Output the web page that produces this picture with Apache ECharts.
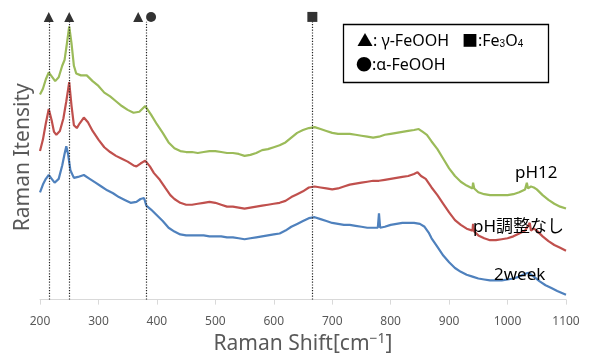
<!DOCTYPE html>
<html>
<head>
<meta charset="utf-8">
<script src="https://cdn.jsdelivr.net/npm/echarts@6/dist/echarts.min.js"></script>
<style>
  html, body { margin: 0; padding: 0; background: #fff; }
  #chart { width: 589px; height: 360px; }
</style>
</head>
<body>
<div id="chart"></div>
<script>
// Raman spectra (arbitrary intensity units, offset per sample)
const shiftPH12 = [200,205,210,215,220,226,232,238,242,246,250,254,258,262,270,280,290,300,310,320,330,340,350,360,370,380,390,400,410,420,430,440,450,460,470,480,490,500,510,520,530,540,550,560,570,580,590,600,610,620,630,640,650,660,670,680,690,700,710,720,730,740,750,760,770,780,790,800,810,820,830,840,848,855,862,870,880,890,900,910,920,930,940,941,943,950,960,970,980,990,1000,1010,1020,1030,1033,1035,1040,1045,1050,1060,1070,1080,1090,1100];
const intPH12 = [214,220,230,237,233,228,232,244,250,267,285,267,244,236,234,234,228,223,216,212,207,202,198,195,196,202,193,183,174,164,158,155,154,154,153,154,155,155,154,153,153,152,150,151,153,156,157,159,161,164,169,174,177,179,180,178,176,174,173,173,173,172,171,170,169,170,172,173,174,175,176,177,178,175,172,165,157,147,137,129,123,119,116,122,116,112,110,109,109,109,109,110,112,115,122,116,118,117,115,109,104,100,97,95];

const shiftNoAdj = [200,205,210,215,220,224,228,234,240,245,250,254,258,263,268,275,282,290,300,310,320,330,340,350,360,365,372,380,388,395,405,415,423,430,440,450,460,470,480,490,500,510,520,530,540,550,560,570,580,590,600,610,620,630,640,650,660,670,680,690,700,710,720,730,740,750,760,770,780,790,800,810,820,830,840,846,852,860,870,880,890,900,910,920,930,940,941,943,950,960,970,980,990,1000,1010,1020,1030,1038,1040,1045,1050,1060,1070,1080,1090,1100];
const intNoAdj = [155,167,184,199,187,175,172,176,189,207,227,202,182,179,184,190,185,176,167,159,154,150,147,144,140,139,142,145,139,132,125,116,109,105,101,99,99,100,101,102,101,99,97,97,96,95,96,97,98,99,100,101,103,107,110,113,117,118,117,116,115,116,118,120,121,122,123,124,124,125,126,127,128,129,131,133,129,126,117,109,100,91,83,78,74,72,79,71,67,64,62,62,63,64,66,69,72,80,72,74,72,66,61,57,54,51];

const shift2w = [200,205,210,215,220,225,232,238,242,245,248,252,258,265,275,285,295,305,315,325,335,345,355,365,372,378,382,390,400,410,420,430,440,450,460,470,480,490,500,510,520,530,540,550,560,570,580,590,600,610,620,630,640,650,660,670,680,690,700,710,720,730,740,750,760,770,778,780,782,790,800,810,820,830,840,850,858,865,870,880,890,900,910,920,930,940,950,960,970,980,990,1000,1010,1020,1030,1036,1045,1055,1065,1075,1085,1100];
const int2w = [112,120,126,130,126,122,126,140,152,160,152,135,127,128,130,126,122,118,114,111,107,104,101,102,105,106,98,94,88,82,75,71,68,67,67,67,67,66,66,66,65,65,64,63,64,65,66,67,68,69,72,76,79,82,85,86,84,82,80,79,78,78,77,76,75,75,75,90,75,76,78,79,80,80,80,79,76,70,64,55,46,39,33,29,26,24,22,21,20,20,20,21,22,24,27,28,24,19,15,12,9,5];

// Reference band positions and their assignment markers
const peakShifts = [215, 250, 381, 666];
const markerShifts = [215, 250, 368, 390, 666];
const markerSymbols = ['triangle', 'triangle', 'triangle', 'circle', 'rect'];
const markerLevel = 295;
const peakLineTop = 290;

const xTicks = [200,300,400,500,600,700,800,900,1000,1100];

const zip = (xs, ys) => xs.map((x, i) => [x, ys[i]]);

const chart = echarts.init(document.getElementById('chart'), null, { renderer: 'canvas' });
const FONT = '"Noto Sans", "Noto Sans CJK JP", sans-serif';
const GREY = '#595959';

const lineSeries = (name, data, color) => ({
  name, type: 'line', data, showSymbol: false, symbol: 'none',
  lineStyle: { color, width: 2.2 }, z: 3, animation: false
});

const label = (text, x, y) => ({
  type: 'text', x, y, z: 11,
  style: { text, fontSize: 17, fill: '#000', fontFamily: FONT, verticalAlign: 'middle' }
});

chart.setOption({
  animation: false,
  textStyle: { fontFamily: FONT },
  grid: { left: 40, right: 23, top: 15, bottom: 49 },
  xAxis: {
    type: 'value', min: 200, max: 1100, interval: 100,
    name: 'Raman Shift[cm{sup|−1}]', nameLocation: 'middle', nameGap: 29,
    nameTextStyle: {
      fontSize: 21, color: GREY, fontFamily: FONT,
      rich: { sup: { fontSize: 14, color: GREY, verticalAlign: 'top', padding: [0, 0, 10, 0] } }
    },
    axisLine: { lineStyle: { color: '#D9D9D9', width: 1 } },
    axisTick: { show: true, length: 5, inside: false, lineStyle: { color: '#D9D9D9' } },
    axisLabel: { fontSize: 12, color: GREY, margin: 16, formatter: v => xTicks.includes(v) ? String(v) : '' },
    splitLine: { show: false }
  },
  yAxis: {
    type: 'value', min: 0, max: 297,
    name: 'Raman Itensity', nameLocation: 'middle', nameGap: 6,
    nameTextStyle: { fontSize: 21, color: GREY, fontFamily: FONT },
    axisLine: { show: false }, axisTick: { show: false },
    axisLabel: { show: false }, splitLine: { show: false }
  },
  series: [
    lineSeries('pH12', zip(shiftPH12, intPH12), '#9BBB59'),
    lineSeries('pH調整なし', zip(shiftNoAdj, intNoAdj), '#C0504D'),
    lineSeries('2week', zip(shift2w, int2w), '#4F81BD'),
    {
      type: 'scatter', z: 5,
      data: markerShifts.map((x, i) => ({ value: [x, markerLevel], symbol: markerSymbols[i] })),
      symbolSize: 10,
      itemStyle: { color: '#000' },
      markLine: {
        silent: true, symbol: 'none', label: { show: false },
        lineStyle: { color: '#222', type: [1.2, 1.6], width: 1.2 },
        data: peakShifts.map(x => [{ coord: [x, 0] }, { coord: [x, peakLineTop] }])
      }
    }
  ],
  graphic: [
    { type: 'rect', shape: { x: 343.5, y: 24.5, width: 205, height: 58 },
      style: { fill: '#fff', stroke: '#000', lineWidth: 1.3 }, z: 10 },
    { type: 'text', x: 357, y: 41, z: 11,
      style: { text: '▲: γ-FeOOH', fontSize: 16, fill: '#000', fontFamily: FONT, verticalAlign: 'middle' } },
    { type: 'text', x: 462, y: 41, z: 11,
      style: { text: '■:Fe{s|3}O{s|4}', fontSize: 16, fill: '#000', fontFamily: FONT, verticalAlign: 'middle',
        rich: { s: { fontSize: 10, padding: [7, 0, 0, 0] } } } },
    { type: 'text', x: 356, y: 65, z: 11,
      style: { text: '●:α-FeOOH', fontSize: 16, fill: '#000', fontFamily: FONT, verticalAlign: 'middle' } },
    label('pH12', 515, 173),
    label('pH調整なし', 473, 227),
    label('2week', 494, 275)
  ]
});
</script>
</body>
</html>
